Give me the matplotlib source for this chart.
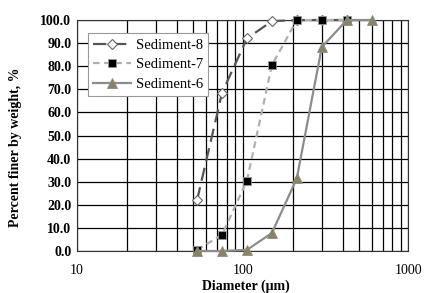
import matplotlib
matplotlib.use("Agg")
import matplotlib.pyplot as plt
from matplotlib.ticker import LogLocator, NullFormatter, FixedLocator

plt.rcParams['font.family'] = ['Liberation Serif', 'DejaVu Serif']

# sieve sizes (um) and percent finer
sizes = [53, 75, 106, 150, 212, 300, 425, 600]
sed8 = [22.0, 68.5, 92.0, 99.5, 100.0, 100.0, 100.0]
sed7 = [0.5, 7.0, 30.5, 80.5, 100.0, 100.0, 100.0]
sed6 = [0.0, 0.0, 0.5, 7.8, 31.5, 88.3, 100.0, 100.0]
yticks = [0, 10, 20, 30, 40, 50, 60, 70, 80, 90, 100]

fig = plt.figure(figsize=(4.24, 2.93), dpi=100)
ax = fig.add_axes([0.1816, 0.1433, 0.7818, 0.7884])

ax.plot(sizes[:len(sed8)], sed8, color='#555555', ls=(0, (6, 3)), lw=1.6,
        marker='D', ms=5, mfc='white', mec='#666666', mew=0.8,
        label='Sediment-8', zorder=4, clip_on=False)
ax.plot(sizes[:len(sed7)], sed7, color='#b0b0b0', ls=(0, (3, 2)), lw=1.6,
        marker='s', ms=6, mfc='black', mec='#999999', mew=0.6,
        label='Sediment-7', zorder=5, clip_on=False)
ax.plot(sizes[:len(sed6)], sed6, color='#8c8c8c', ls='-', lw=1.6,
        marker='^', ms=7, mfc='#8a8260', mec='#8c8c8c', mew=0.6,
        label='Sediment-6', zorder=6, clip_on=False)

ax.set_xscale('log')
ax.set_xlim(10, 1000)
ax.set_ylim(0, 100)
ax.xaxis.set_major_locator(FixedLocator([10, 100, 1000]))
ax.xaxis.set_minor_locator(LogLocator(base=10, subs=range(2, 10)))
ax.xaxis.set_minor_formatter(NullFormatter())
ax.set_xticklabels(['10', '100', '1000'], fontsize=10)
ax.set_yticks(yticks)
ax.set_yticklabels([f'{v:.1f}' for v in yticks], fontsize=10, fontweight='bold')
ax.tick_params(which='both', length=0, pad=9)
ax.tick_params(axis='y', pad=4)

ax.grid(True, which='both', color='black', lw=0.9)
ax.set_axisbelow(True)
for s in ax.spines.values():
    s.set_color('#333333')
    s.set_linewidth(0.8)

ax.set_xlabel('Diameter (\u03bcm)', fontsize=10, fontweight='bold')
ax.set_ylabel('Percent finer by weight, %', fontsize=10, fontweight='bold')
ax.xaxis.set_label_coords(0.51, -0.125)
ax.yaxis.set_label_coords(-0.166, 0.45)

leg = ax.legend(loc='upper left', bbox_to_anchor=(0.025, 0.955), fontsize=10.5,
                frameon=True, fancybox=False, edgecolor='#999999',
                framealpha=1, handlelength=2.6, handletextpad=0.3,
                borderpad=0.35, labelspacing=0.45, borderaxespad=0.2)
leg.get_frame().set_linewidth(0.8)
leg.set_zorder(10)

fig.savefig('out.png', dpi=100)
